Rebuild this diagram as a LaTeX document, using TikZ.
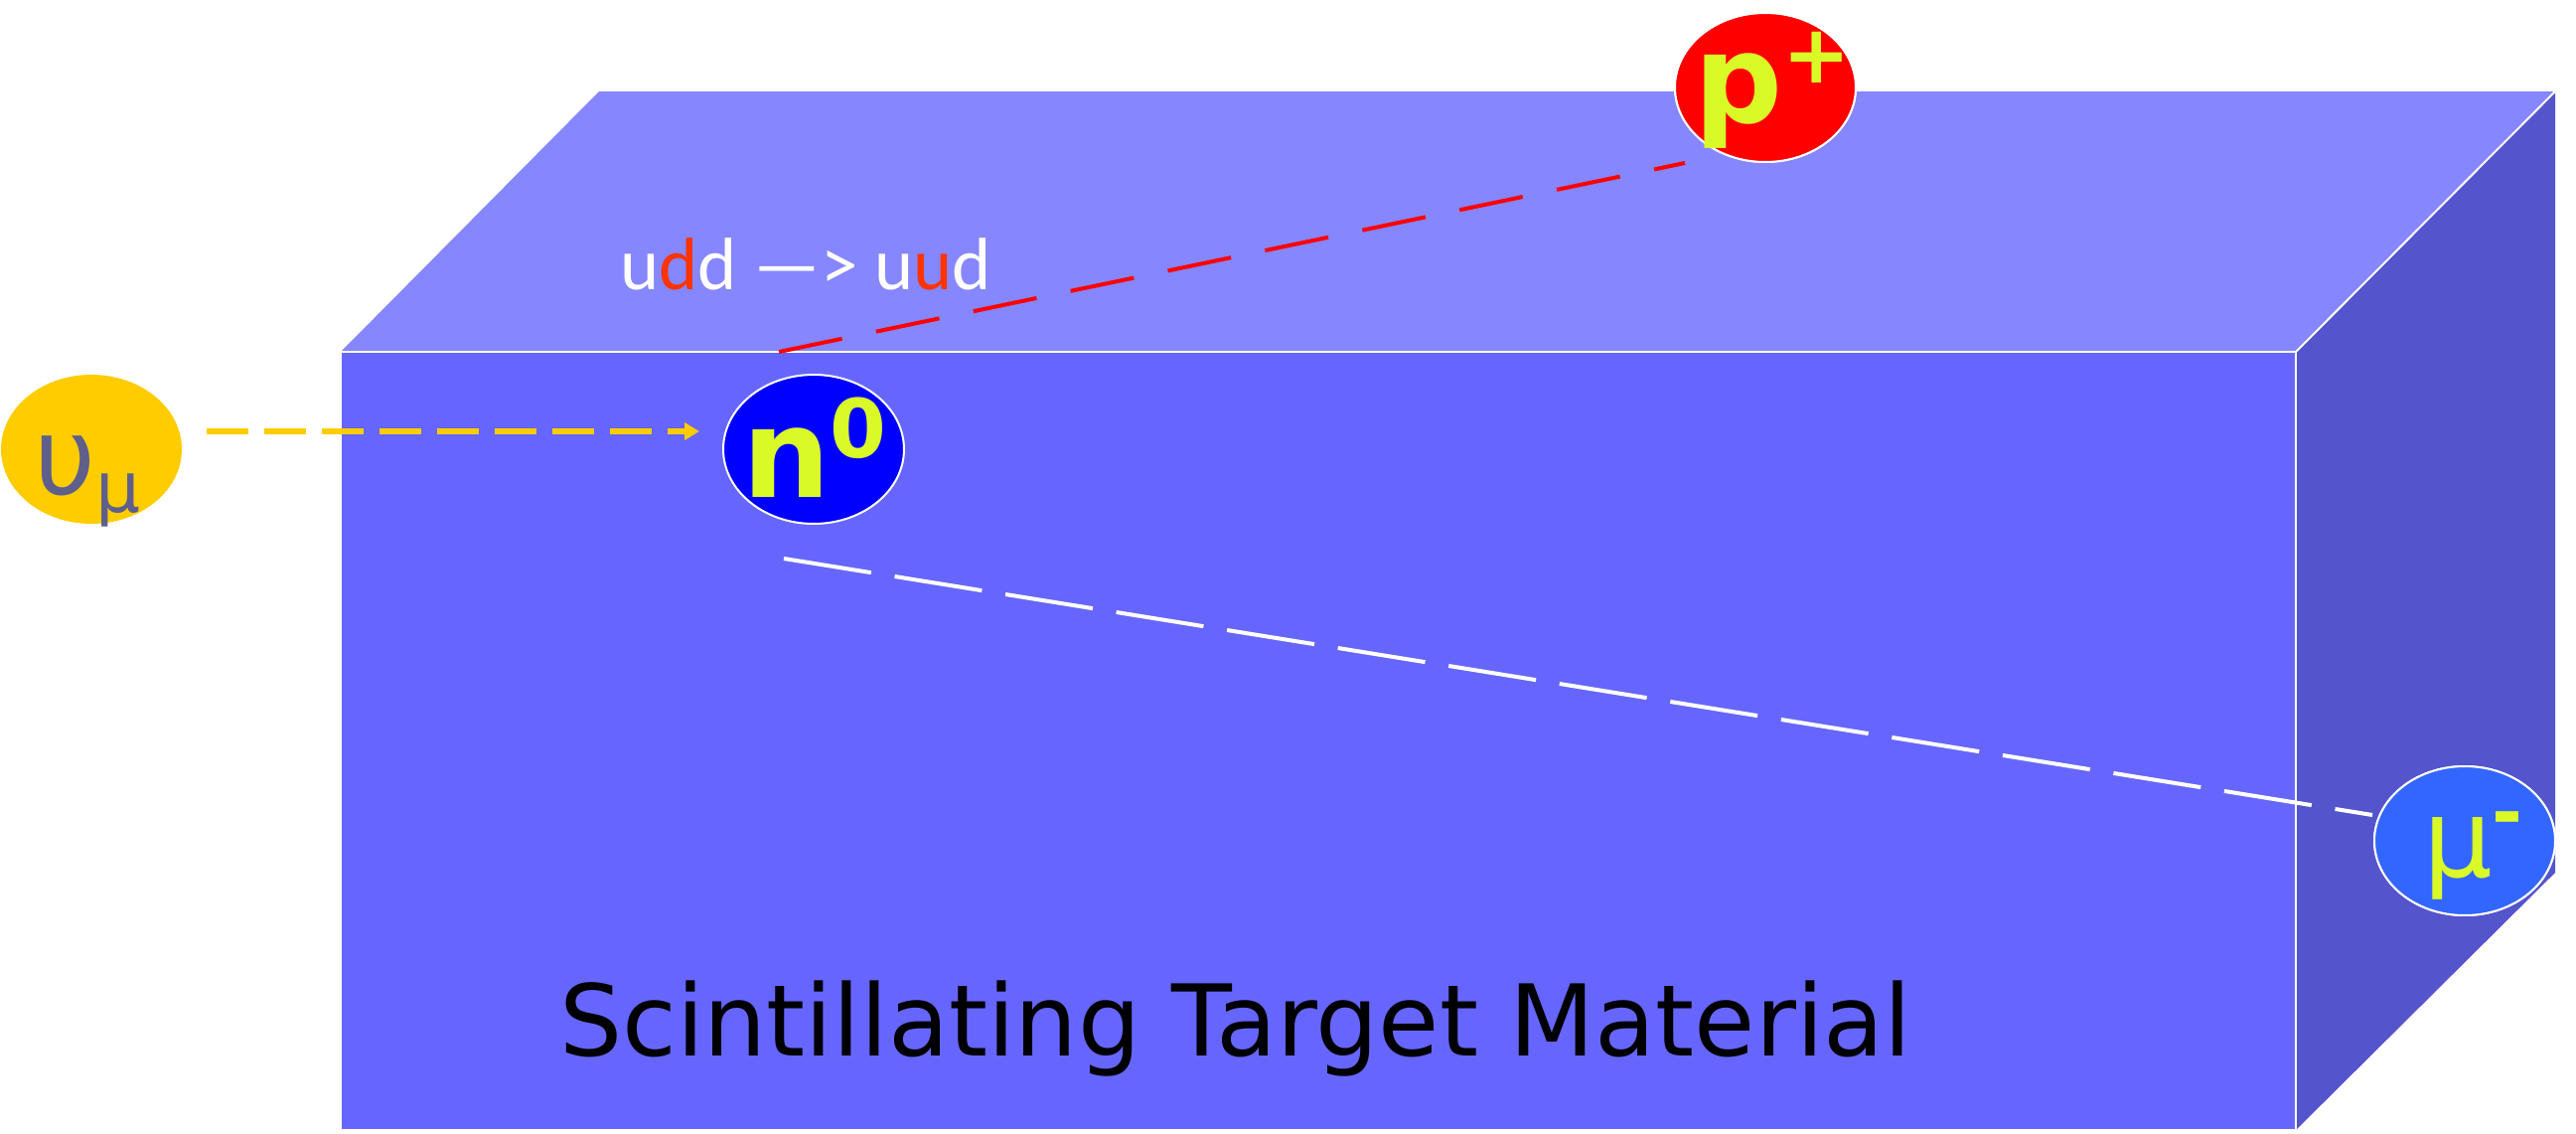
\documentclass[tikz,border=0pt]{standalone}
\usepackage{fontspec}
\newfontfamily\dejavu{DejaVu Sans}
\newfontfamily\carlito{Carlito}
\usetikzlibrary{arrows.meta,shapes.geometric,calc}
\definecolor{topface}{RGB}{134,134,255}
\definecolor{frontface}{RGB}{102,102,255}
\definecolor{sideface}{RGB}{84,84,204}
\definecolor{nufill}{RGB}{255,204,0}
\definecolor{nulabel}{RGB}{95,95,140}
\definecolor{nfill}{RGB}{0,0,255}
\definecolor{pfill}{RGB}{255,0,0}
\definecolor{mufill}{RGB}{51,102,255}
\definecolor{lime}{RGB}{218,250,40}
\definecolor{quarkred}{RGB}{255,51,0}
\newcommand\setfs[1]{\fontsize{#1}{#1}\selectfont}
\begin{document}
\begin{tikzpicture}[x=0.02cm,y=-0.02cm,
  face/.style={draw=white,line width=0.04cm,line join=miter},
  particle/.style={ellipse,minimum width=3.64cm,minimum height=3cm,inner sep=0pt,draw=white,line width=0.04cm},
  lbl/.style={inner sep=0pt,outer sep=0pt,anchor=base west},
  yarrow/.style={draw=nufill,line width=0.12cm,dash pattern=on 0.84cm off 0.32cm,-{Triangle[length=0.3cm,width=0.34cm]}},
  rdash/.style={draw=pfill,line width=0.08cm,dash pattern=on 1.3cm off 0.7cm},
  wdash/.style={draw=white,line width=0.08cm,dash pattern=on 1.78cm off 0.48cm}]
\useasboundingbox (0,0) rectangle (2593,1140);
% block faces
\fill[topface] (343,354) -- (603,92) -- (2572,92) -- (2311,354) -- cycle;
\fill[sideface] (2311,354) -- (2572,92) -- (2572,878) -- (2311,1137) -- cycle;
\fill[frontface] (343,354) rectangle (2311,1137);
\draw[face] (343,354) rectangle (2311,1137);
\draw[face] (2311,354) -- (2572,92);
% particles
\node[particle,draw=none,fill=nufill] (nu) at (92,452) {};
\node[particle,fill=nfill] (n0) at (819,452) {};
\node[particle,fill=pfill] (pp) at (1777,88) {};
\node[particle,fill=mufill] (mu) at (2481,846) {};
% tracks
\draw[yarrow] ($(nu.east)+(24,-18)$) -- ($(n0.west)+(-23,-18)$);
\draw[rdash] ($(n0.north)+(-35,-22)$) -- ($(pp.center)+(-81,76)$);
\draw[wdash] ($(n0.south)+(-30,34)$) -- ($(mu.center)+(-93,-26)$);
% redraw particle fills over track ends
\node[particle,fill=pfill] (pp2) at (pp) {};
\node[particle,fill=mufill] (mu2) at (mu) {};
% labels
\node[lbl,text=nulabel] (nutext) at (34,497) {\dejavu\setfs{61.2}υ\raisebox{-0.36cm}{\setfs{40.3}μ}};
\node[lbl,text=lime] (ntext) at (747,500) {\dejavu\bfseries\setfs{70.9}n\raisebox{0.8cm}{\setfs{46.5}0}};
\node[lbl,text=lime] (ptext) at (1705,123) {\dejavu\bfseries\setfs{70.9}p\raisebox{0.8cm}{\setfs{46.5}+}};
\node[lbl,text=lime] (mutext) at (2439,882) {\dejavu\setfs{62.4}μ\raisebox{0.78cm}{\setfs{42.5}\bfseries -}};
\node[lbl,text=white] (quarks) at (624,291) {\carlito\setfs{42.5}u\textcolor{quarkred}{d}d —> u\textcolor{quarkred}{u}d};
\node[lbl,text=black] (title) at (563,1062) {\dejavu\setfs{56.7}Scintillating Target Material};
\end{tikzpicture}
\end{document}
